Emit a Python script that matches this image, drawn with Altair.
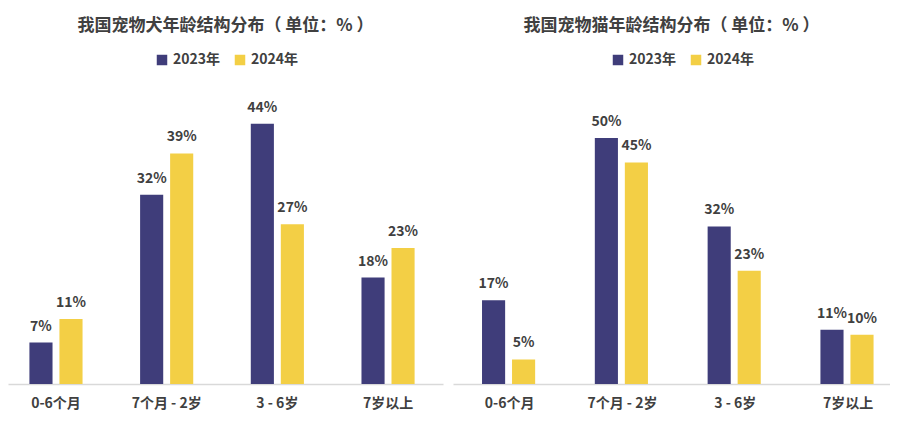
import altair as alt
import pandas as pd

categories = ["0-6个月", "7个月 - 2岁", "3 - 6岁", "7岁以上"]
years = ["2023年", "2024年"]
dog_2023 = [7, 32, 44, 18]
dog_2024 = [11, 39, 27, 23]
cat_2023 = [17, 50, 32, 11]
cat_2024 = [5, 45, 23, 10]

FONT = "Noto Sans CJK SC"
TXT = "#404040"
COLORS = ["#3f3d7a", "#f3cf45"]


def frame(a, b):
    rows = []
    for c, v1, v2 in zip(categories, a, b):
        rows.append({"cat": c, "year": years[0], "v": v1, "label": f"{v1}%"})
        rows.append({"cat": c, "year": years[1], "v": v2, "label": f"{v2}%"})
    return pd.DataFrame(rows)


def panel(df, title, ymax, width, pi, po, align, legend_x):
    x = alt.X(
        "cat:N",
        sort=categories,
        scale=alt.Scale(paddingInner=pi, paddingOuter=po, align=align),
        axis=alt.Axis(
            title=None, labelAngle=0, ticks=False, domainColor="#d9d9d9",
            domainWidth=1.5, labelFontSize=14, labelFontWeight="bold",
            labelColor=TXT, labelPadding=12, labelFont=FONT,
        ),
    )
    xo = alt.XOffset("year:N", sort=years, scale=alt.Scale(paddingInner=0.23))
    y = alt.Y("v:Q", scale=alt.Scale(domain=[0, ymax]), axis=None)
    color = alt.Color(
        "year:N",
        sort=years,
        scale=alt.Scale(domain=years, range=COLORS),
        legend=alt.Legend(
            title=None, orient="none", legendX=legend_x, legendY=-46,
            direction="horizontal", symbolType="square", symbolSize=110,
            labelFontSize=14, labelFontWeight="bold", labelColor=TXT,
            labelFont=FONT, columnPadding=12, symbolStrokeWidth=0,
            labelOffset=4,
        ),
    )
    bars = alt.Chart(df).mark_bar().encode(x=x, xOffset=xo, y=y, color=color)
    text = alt.Chart(df).mark_text(
        baseline="bottom", dy=-9, fontSize=14, fontWeight="bold",
        color=TXT, font=FONT,
    ).encode(x=x, xOffset=xo, y=y, text="label:N")
    return alt.layer(bars, text).properties(
        width=width,
        height=285,
        title=alt.TitleParams(
            title, fontSize=17, fontWeight="bold", color=TXT, font=FONT,
            anchor="middle", offset=18,
        ),
    )


left = panel(frame(dog_2023, dog_2024), "我国宠物犬年龄结构分布（ 单位：% ）",
             48.2, 435, 0.52, 0.225, 0.43, 147)
right = panel(frame(cat_2023, cat_2024), "我国宠物猫年龄结构分布（ 单位：% ）",
              57.9, 437, 0.51, 0.192, 0.67, 158)

chart = (
    alt.hconcat(left, right, spacing=10)
    .resolve_legend(color="independent")
    .resolve_scale(x="independent", y="independent")
    .configure(padding={"left": 0, "top": 9, "right": 0, "bottom": 0})
    .configure_view(stroke=None)
)

chart.save("out.html", embed_options={"renderer": "svg", "actions": False})
